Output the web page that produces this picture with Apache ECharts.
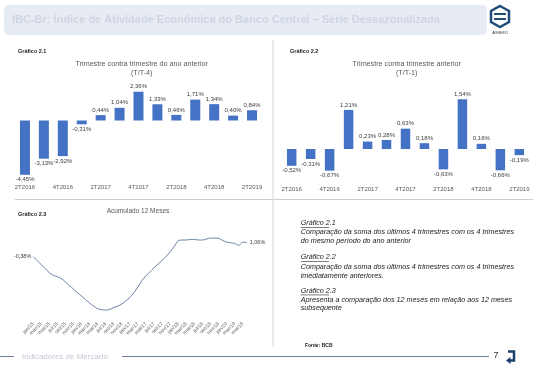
<!DOCTYPE html>
<html><head><meta charset="utf-8">
<script src="https://cdn.jsdelivr.net/npm/echarts@6/dist/echarts.min.js"></script>
<style>html,body{margin:0;padding:0;background:#fff}#c{width:544px;height:369px}</style>
</head><body><div id="c"></div>
<script>
const quarters = ['2T2016','3T2016','4T2016','1T2017','2T2017','3T2017','4T2017','1T2018','2T2018','3T2018','4T2018','1T2019','2T2019'];
const yoyValues = [-4.45,-3.13,-2.92,-0.31,0.44,1.04,2.36,1.33,0.46,1.71,1.34,0.40,0.84];
const qoqValues = [-0.52,-0.31,-0.67,1.21,0.23,0.28,0.63,0.18,-0.63,1.54,0.16,-0.66,-0.19];
const months = ['jan/15','fev/15','mar/15','abr/15','mai/15','jun/15','jul/15','ago/15','set/15','out/15','nov/15','dez/15',
  'jan/16','fev/16','mar/16','abr/16','mai/16','jun/16','jul/16','ago/16','set/16','out/16','nov/16','dez/16',
  'jan/17','fev/17','mar/17','abr/17','mai/17','jun/17','jul/17','ago/17','set/17','out/17','nov/17','dez/17',
  'jan/18','fev/18','mar/18','abr/18','mai/18','jun/18','jul/18','ago/18','set/18','out/18','nov/18','dez/18',
  'jan/19','fev/19','mar/19','abr/19','mai/19','jun/19'];
const acc12Values = [-0.38,-0.79,-1.20,-1.61,-2.03,-2.30,-2.44,-2.64,-2.99,-3.36,-3.71,-4.08,
  -4.43,-4.80,-5.15,-5.46,-5.73,-5.83,-5.87,-5.80,-5.59,-5.46,-5.25,-4.91,
  -4.56,-4.08,-3.47,-2.82,-2.34,-1.92,-1.51,-1.13,-0.76,-0.35,0.13,0.68,
  1.27,1.34,1.34,1.40,1.40,1.34,1.34,1.44,1.54,1.54,1.51,1.30,
  1.13,1.06,0.99,0.79,1.13,1.06];

const FONT = 'Liberation Sans';
const fmt = v => v.toFixed(2).replace('.', ',') + '%';
const barItems = vals => vals.map(v => ({
  value: v,
  label: {position: v < 0 ? 'bottom' : 'top'}
}));
const lastIdx = acc12Values.length - 1;
const lineItems = acc12Values.map((v, i) => {
  if (i === 0) return {value: v, label: {show: true, position: 'left', distance: 2}};
  if (i === lastIdx) return {value: v, label: {show: true, position: 'right', distance: 3}};
  return {value: v, label: {show: false}};
});

const barLabel = {show: true, fontSize: 6, fontFamily: FONT, color: '#404040', distance: 2,
  formatter: p => fmt(p.value)};
const catAxisLabel = {fontSize: 6, fontFamily: FONT, color: '#595959', interval: 1};

const txt = (x, y, text, o) => Object.assign({type: 'text', x: x, y: y, silent: true,
  style: Object.assign({text: text, fontFamily: FONT, fontSize: 7, fill: '#333', verticalAlign: 'middle'}, o || {})});
const line = (x1, y1, x2, y2, c, w) => ({type: 'line', silent: true,
  shape: {x1: x1, y1: y1, x2: x2, y2: y2}, style: {stroke: c, lineWidth: w || 1}});
const NOTE = {fontSize: 7.2, fontStyle: 'italic', fill: '#222'};

const chart = echarts.init(document.getElementById('c'), null, {renderer: 'canvas'});
chart.setOption({
  animation: false,
  backgroundColor: '#fff',
  grid: [
    {left: 15.5, top: 83.9, width: 246, height: 97.6, outerBoundsMode: 'none'},
    {left: 282.2, top: 84.4, width: 246.6, height: 96.9, outerBoundsMode: 'none'},
    {left: 33.3, top: 233.6, width: 213.4, height: 87.5, outerBoundsMode: 'none'}
  ],
  xAxis: [
    {type: 'category', gridIndex: 0, data: quarters, axisLine: {show: false, onZero: false},
      axisTick: {show: false}, axisLabel: Object.assign({margin: 3}, catAxisLabel)},
    {type: 'category', gridIndex: 1, data: quarters, axisLine: {show: false, onZero: false},
      axisTick: {show: false}, axisLabel: Object.assign({margin: 5}, catAxisLabel)},
    {type: 'category', gridIndex: 2, data: months, boundaryGap: false,
      axisLine: {show: false, onZero: false}, axisTick: {show: false},
      axisLabel: {fontSize: 5, fontFamily: FONT, color: '#595959', interval: 1, rotate: 45, margin: 2}}
  ],
  yAxis: [
    {type: 'value', gridIndex: 0, min: -5, max: 3, show: false, splitLine: {show: false}},
    {type: 'value', gridIndex: 1, min: -1, max: 2, show: false, splitLine: {show: false}},
    {type: 'value', gridIndex: 2, min: -7, max: 2, show: false, splitLine: {show: false}}
  ],
  series: [
    {type: 'bar', xAxisIndex: 0, yAxisIndex: 0, data: barItems(yoyValues), barWidth: 10,
      itemStyle: {color: '#4472C4'}, label: barLabel},
    {type: 'bar', xAxisIndex: 1, yAxisIndex: 1, data: barItems(qoqValues), barWidth: 9.5,
      itemStyle: {color: '#4472C4'}, label: barLabel},
    {type: 'line', xAxisIndex: 2, yAxisIndex: 2, data: lineItems, symbol: 'circle', symbolSize: 0,
      showSymbol: true, showAllSymbol: true, smooth: 0.3,
      lineStyle: {color: '#6a80aa', width: 1},
      label: {fontSize: 5.5, fontFamily: FONT, color: '#404040', formatter: p => fmt(p.value)}}
  ],
  graphic: [
    {type: 'rect', silent: true, shape: {x: 4, y: 5, width: 483, height: 30, r: 5}, style: {fill: '#e7ebf3'}},
    txt(12, 20, 'IBC-Br: Índice de Atividade Econômica do Banco Central – Série Dessazonalizada',
      {fontSize: 11, fontWeight: 'bold', fill: '#cfd5e1'}),
    {type: 'polygon', silent: true, shape: {points: [[500,6],[509,11],[509,22],[500,27],[491,22],[491,11]]},
      style: {fill: 'none', stroke: '#1f4e79', lineWidth: 2.5}},
    line(494, 14, 506, 14, '#1f4e79', 2), line(494, 19, 506, 19, '#1f4e79', 2),
    txt(500, 33, 'ASSERJ', {fontSize: 4, fill: '#333', align: 'center'}),

    txt(18, 51, 'Gráfico 2.1', {fontSize: 5.5, fontWeight: 'bold', fill: '#222'}),
    txt(141.7, 64.3, 'Trimestre contra trimestre do ano anterior', {fontSize: 7.2, fill: '#595959', align: 'center'}),
    txt(141.7, 73.3, '(T/T-4)', {fontSize: 7.2, fill: '#595959', align: 'center'}),
    txt(290, 51, 'Gráfico 2.2', {fontSize: 5.5, fontWeight: 'bold', fill: '#222'}),
    txt(406.7, 64.3, 'Trimestre contra trimestre anterior', {fontSize: 7.2, fill: '#595959', align: 'center'}),
    txt(406.7, 73.3, '(T/T-1)', {fontSize: 7.2, fill: '#595959', align: 'center'}),

    line(15, 199.5, 533, 199.5, '#cfcfcf', 1),
    line(273, 40, 273, 347, '#d6d6d6', 1),

    txt(18, 214, 'Gráfico 2.3', {fontSize: 5.5, fontWeight: 'bold', fill: '#222'}),
    txt(138, 211, 'Acumulado 12 Meses', {fontSize: 6.5, fill: '#595959', align: 'center'}),

    txt(300.7, 223.3, 'Gráfico 2.1', NOTE),
    line(300.7, 227.5, 329, 227.5, '#222', 0.6),
    txt(300.7, 232.3, 'Comparação da soma dos últimos 4 trimestres com os 4 trimestres', NOTE),
    txt(300.7, 240.7, 'do mesmo período do ano anterior', NOTE),
    txt(300.7, 257.3, 'Gráfico 2.2', NOTE),
    line(300.7, 261.5, 329, 261.5, '#222', 0.6),
    txt(300.7, 266.7, 'Comparação da soma dos últimos 4 trimestres com os 4 trimestres', NOTE),
    txt(300.7, 276, 'imediatamente anteriores.', NOTE),
    txt(300.7, 290.7, 'Gráfico 2.3', NOTE),
    line(300.7, 294.9, 329, 294.9, '#222', 0.6),
    txt(300.7, 300, 'Apresenta a comparação dos 12 meses em relação aos 12 meses', NOTE),
    txt(300.7, 308.3, 'subsequente', NOTE),
    txt(305, 346, 'Fonte: BCB', {fontSize: 5, fontWeight: 'bold', fill: '#222'}),

    line(0, 356.5, 14, 356.5, '#6d7f99', 1),
    txt(22, 356.5, 'Indicadores de Mercado', {fontSize: 8, fill: '#c3c9d4'}),
    line(122, 356.5, 489, 356.5, '#6d7f99', 1),
    txt(496, 356, '7', {fontSize: 9, fill: '#333', align: 'center'}),
    {type: 'polyline', silent: true, shape: {points: [[508,351.5],[514,351.5],[514,360.5],[510,360.5]]},
      style: {stroke: '#1f3e70', lineWidth: 2.5, fill: 'none'}},
    {type: 'polygon', silent: true, shape: {points: [[506,360.5],[510.5,357],[510.5,364]]},
      style: {fill: '#1f3e70'}}
  ]
});
</script></body></html>
